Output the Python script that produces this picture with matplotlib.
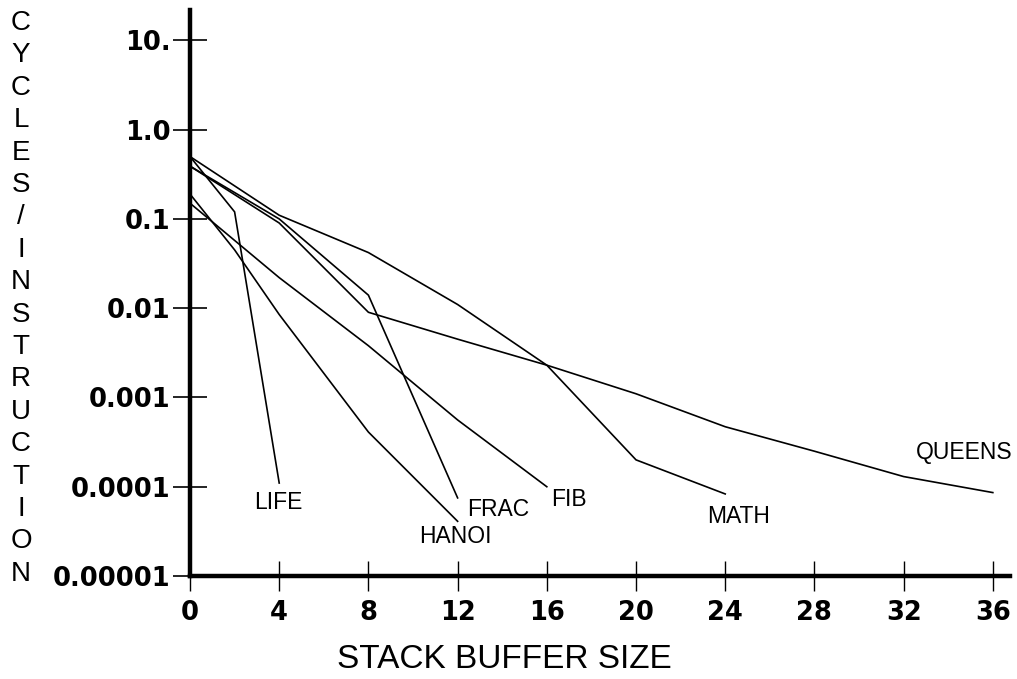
import matplotlib
matplotlib.use("Agg")
import matplotlib.pyplot as plt
from matplotlib.ticker import FixedLocator, FixedFormatter, NullLocator

# ---- data ----
life_x = [0, 2, 4]
life_y = [0.5, 0.12, 1.1e-4]

hanoi_x = [0, 2, 4, 8, 12]
hanoi_y = [0.19, 0.045, 0.0085, 4.1e-4, 4.1e-5]

frac_x = [0, 4, 8, 12]
frac_y = [0.39, 0.1, 0.014, 7.5e-5]

fib_x = [0, 4, 8, 12, 16]
fib_y = [0.15, 0.022, 0.0038, 5.6e-4, 1.0e-4]

math_x = [0, 4, 8, 12, 16, 20, 24]
math_y = [0.5, 0.11, 0.042, 0.011, 0.0023, 2.0e-4, 8.3e-5]

queens_x = [0, 4, 8, 12, 16, 20, 24, 28, 32, 36]
queens_y = [0.39, 0.09, 0.009, 0.0045, 0.0023, 0.0011, 4.7e-4, 2.5e-4, 1.3e-4, 8.6e-5]

series_names = ["LIFE", "HANOI", "FRAC", "FIB", "MATH", "QUEENS"]
label_x = [3.95, 11.9, 13.8, 17.0, 24.6, 34.7]
label_y = [6.6e-5, 2.8e-5, 5.6e-5, 7.2e-5, 4.7e-5, 2.4e-4]

x_ticks = [0, 4, 8, 12, 16, 20, 24, 28, 32, 36]
y_ticks = [10.0, 1.0, 0.1, 0.01, 0.001, 0.0001, 0.00001]
y_tick_labels = ["10.", "1.0", "0.1", "0.01", "0.001", "0.0001", "0.00001"]

x_title = "STACK BUFFER SIZE"
y_title = "CYCLES/INSTRUCTION"

# ---- figure ----
W, H = 1017, 679
fig = plt.figure(figsize=(W / 100, H / 100), dpi=100)
ax = fig.add_axes([190 / W, 1 - 576 / H, (1010 - 190) / W, (576 - 10) / H])

ax.set_yscale("log")
ax.set_xlim(0, 36.77)
ax.set_ylim(1e-5, 21.9)

series = [(life_x, life_y), (hanoi_x, hanoi_y), (frac_x, frac_y),
          (fib_x, fib_y), (math_x, math_y), (queens_x, queens_y)]
for xs, ys in series:
    ax.plot(xs, ys, color="black", linewidth=1.2, solid_joinstyle="miter")

label_font = dict(family="Liberation Sans", fontsize=16.5, color="black")
for name, lx, ly in zip(series_names, label_x, label_y):
    ax.text(lx, ly, name, ha="center", va="center", **label_font)

for side in ["top", "right"]:
    ax.spines[side].set_visible(False)
for side in ["left", "bottom"]:
    ax.spines[side].set_linewidth(3.2)
    ax.spines[side].set_color("black")

ax.xaxis.set_major_locator(FixedLocator(x_ticks))
ax.xaxis.set_minor_locator(NullLocator())
ax.yaxis.set_major_locator(FixedLocator(y_ticks))
ax.yaxis.set_major_formatter(FixedFormatter(y_tick_labels))
ax.yaxis.set_minor_locator(NullLocator())

ax.tick_params(axis="x", direction="inout", length=22, width=1.0, pad=6,
               labelsize=18.5)
ax.tick_params(axis="y", direction="inout", length=24, width=1.2, pad=2,
               labelsize=18.5)
for lab in ax.get_xticklabels() + ax.get_yticklabels():
    lab.set_fontfamily("DejaVu Sans")
    lab.set_fontweight("bold")

ax.patch.set_alpha(0)

# x-axis title
fig.text(504 / W, 1 - 660 / H, x_title, ha="center", va="center",
         family="Liberation Sans", fontsize=24)

# vertical stacked y-axis title
top_px, step_px = 23, 32.4
for i, ch in enumerate(y_title):
    fig.text(21 / W, 1 - (top_px + i * step_px) / H, ch, ha="center",
             va="center", family="Liberation Sans", fontsize=20)

fig.savefig("out.png", dpi=100, facecolor="white")
